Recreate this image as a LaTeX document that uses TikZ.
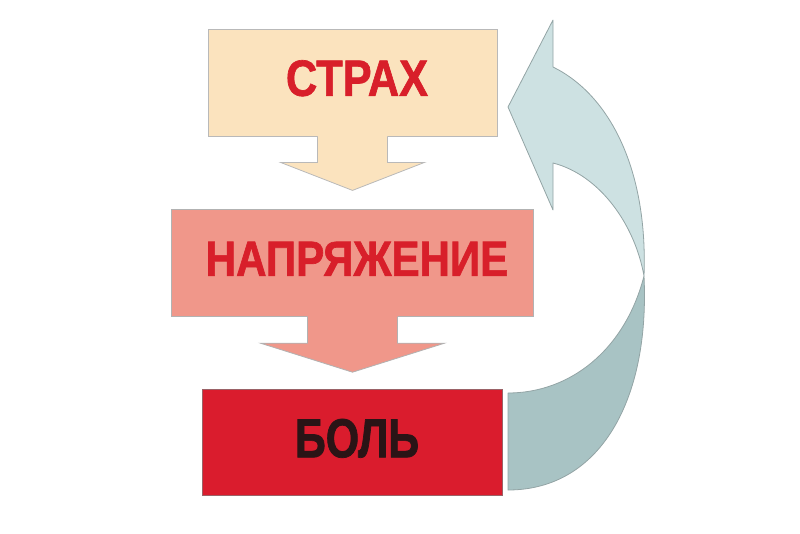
\documentclass[tikz,border=0pt]{standalone}
\usepackage{fontspec}
\usepackage{xcolor}
\newfontfamily\boxfont[FakeStretch=0.85, BoldFeatures={FakeBold=1.3}]{Liberation Sans}
\newfontfamily\painfont[FakeStretch=0.78, BoldFeatures={FakeBold=1.3}]{Liberation Sans}
\usetikzlibrary{positioning}

\definecolor{fearfill}{HTML}{FBE3BE}
\definecolor{tensionfill}{HTML}{F0978A}
\definecolor{painfill}{HTML}{DA1C2D}
\definecolor{labelred}{HTML}{D81F2A}
\definecolor{labeldark}{HTML}{2A1416}
\definecolor{looplight}{HTML}{CDE1E2}
\definecolor{loopdark}{HTML}{A8C3C4}
\definecolor{loopedge}{HTML}{93A4A5}

\begin{document}
\begin{tikzpicture}[
    x=1pt, y=-1pt,
    box/.style={rectangle, draw=#1, line width=0.8pt, inner sep=0pt, minimum height=107pt, text depth=9pt,
        execute at begin node={\hspace*{9pt}}},
    boxtext/.style={font=\boxfont\bfseries\fontsize{#1}{#1}\selectfont},
    paintext/.style={font=\painfont\bfseries\fontsize{#1}{#1}\selectfont}
]
\useasboundingbox (0,0) rectangle (800,533);

% boxes
\node[box=gray!55, fill=fearfill, minimum width=289pt, boxtext=51, text=labelred] (fear) at (352.5,82.5) {СТРАХ};
\node[box=gray!60, fill=tensionfill, minimum width=362pt, boxtext=49.5, text=labelred, below=73pt of fear] (tension) {НАПРЯЖЕНИЕ};
\node[box=gray!70!painfill, fill=painfill, minimum width=300pt, minimum height=106pt, paintext=55, text=labeldark, below=72pt of tension] (pain) {БОЛЬ};

% arrow under fear
\fill[fearfill] ([xshift=-35pt,yshift=1pt]fear.south) -- ++(0,27) -- ++(-37,0) -- ++(72,28) -- ++(72,-28) -- ++(-37,0) -- ++(0,-27) -- cycle;
\draw[gray!55, line width=0.8pt] ([xshift=-35pt]fear.south) -- ++(0,26) -- ++(-37,0) -- ++(72,28) -- ++(72,-28) -- ++(-37,0) -- ++(0,-26);

% arrow under tension
\fill[tensionfill] ([xshift=-45pt,yshift=1pt]tension.south) -- ++(0,27) -- ++(-47,0) -- ++(92,29) -- ++(92,-29) -- ++(-47,0) -- ++(0,-27) -- cycle;
\draw[gray!60, line width=0.8pt] ([xshift=-45pt]tension.south) -- ++(0,26) -- ++(-47,0) -- ++(92,29) -- ++(92,-29) -- ++(-47,0) -- ++(0,-26);

% loop back from pain to fear
\filldraw[fill=loopdark, draw=loopedge, line width=0.8pt, line join=round]
    (508,393) -- (508,490) .. controls (600,490) and (650,400) .. (644,276)
    .. controls (625,350) and (570,393) .. (508,393) -- cycle;
\filldraw[fill=looplight, draw=loopedge, line width=0.8pt, line join=round]
    (644,276) .. controls (648,170) and (610,95) .. (553,67) -- (553,20) -- (508,107)
    -- (553,210) -- (553,163) .. controls (600,175) and (635,225) .. (644,276) -- cycle;
\end{tikzpicture}
\end{document}
